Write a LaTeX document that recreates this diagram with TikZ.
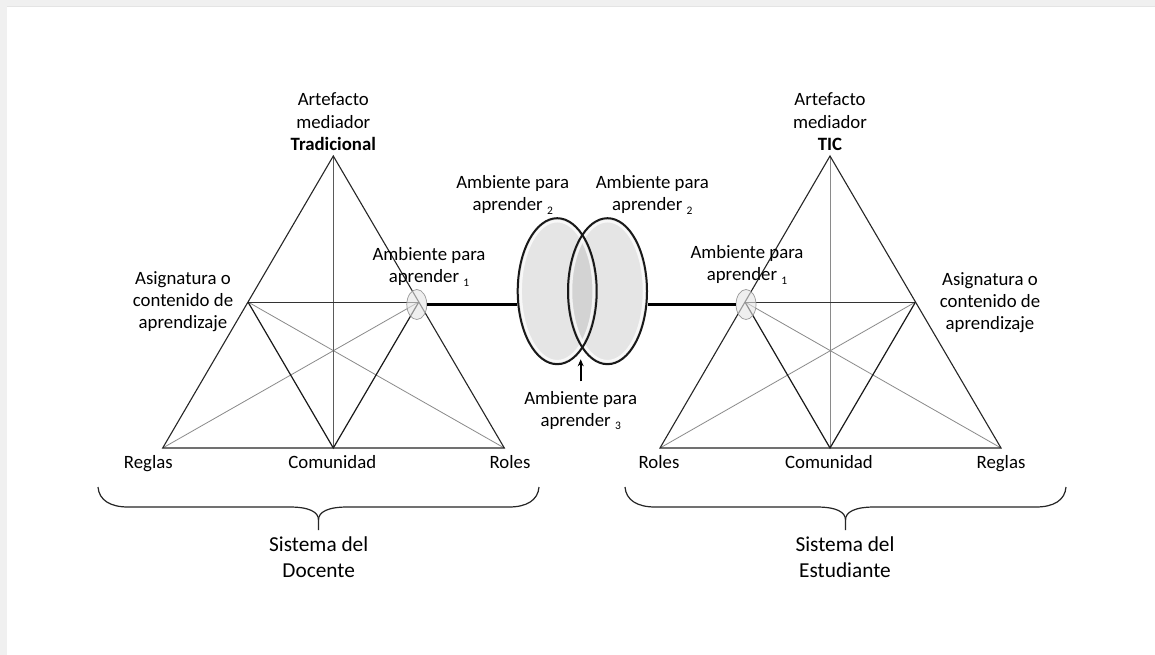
\documentclass[tikz,border=0pt]{standalone}
\usepackage{fontspec}
\setmainfont{Carlito}
\usetikzlibrary{shapes.geometric,arrows.meta}

\definecolor{framegray}{HTML}{F0F0F0}
\definecolor{frameedge}{HTML}{E4E4E4}
\definecolor{lensfill}{HTML}{E5E5E5}
\definecolor{lensdark}{HTML}{D3D3D3}
\definecolor{raygray}{HTML}{8A8A8A}
\definecolor{axisgray}{HTML}{5A5A5A}

% small lowered index after "aprender"
\newcommand{\lowidx}[1]{{\fontsize{11.5}{12}\selectfont\raisebox{-3.5pt}{#1}}}
% centred multi-line label whose base is the first line
\newcommand{\stack}[1]{\begin{tabular}[t]{@{}c@{}}#1\end{tabular}}

\tikzset{
  edge/.style={draw=black!85,line width=1.1pt},
  medial/.style={draw=black!90,line width=1.2pt},
  midline/.style={draw=black!80,line width=0.9pt},
  axisline/.style={draw=axisgray,line width=0.9pt},
  ray/.style={draw=raygray,line width=0.8pt},
  link/.style={draw=black,line width=2.6pt},
  lbl/.style={inner sep=0pt,anchor=base,font=\fontsize{18.8}{22.3}\selectfont},
  biglbl/.style={inner sep=0pt,anchor=base,font=\fontsize{21.3}{25.7}\selectfont},
  envspot/.style={ellipse,draw=black!40,fill=lensfill,fill opacity=0.6,
    line width=0.7pt,minimum width=20pt,minimum height=30pt,inner sep=0pt},
  lens/.style={ellipse,draw=black!90,line width=2pt,
    minimum width=79pt,minimum height=146pt,inner sep=0pt},
  pics/sysbrace/.style={code={
    \draw[black!85,line width=1.2pt]
      (-220.5,487) .. controls (-219.5,500) and (-208.5,507) .. (-190.5,507)
      -- (-29,507) .. controls (-9,507) and (0,512) .. (0,520) -- (0,530);
    \draw[black!85,line width=1.2pt]
      (220.5,487) .. controls (219.5,500) and (208.5,507) .. (190.5,507)
      -- (29,507) .. controls (9,507) and (0,512) .. (0,520);
  }}
}

\begin{document}
\begin{tikzpicture}[x=1pt,y=-1pt]
\path[use as bounding box] (0,0) rectangle (1155,655);
% page frame
\fill[framegray] (0,0) rectangle (1155,655);
\fill[white] (7,7) rectangle (1155,655);
\draw[frameedge,line width=1pt] (7,6.5) -- (1155,6.5);

% ---------- left activity triangle ----------
\coordinate (LA) at (333.3,156);
\coordinate (LR) at (162.7,448);
\coordinate (LO) at (504.3,448);
\coordinate (LC) at (333.3,448);
\coordinate (LM1) at (248,302);
\coordinate (LM2) at (418.8,302);

\draw[ray] (LM1) -- (LO);
\draw[ray] (LM2) -- (LR);
\draw[axisline] (LA) -- (LC);
\draw[midline] (LM1) -- (LM2);
\draw[medial] (LM1) -- (LC) -- (LM2);
\draw[edge] (LA) -- (LR) -- (LO) -- cycle;

% ---------- right activity triangle ----------
\coordinate (RA) at (830,156);
\coordinate (RL) at (660,448);
\coordinate (RG) at (1001,448);
\coordinate (RC) at (830,448);
\coordinate (RM1) at (745,302);
\coordinate (RM2) at (915.5,302);

\draw[ray] (RM1) -- (RG);
\draw[ray] (RM2) -- (RL);
\draw[axisline,draw=raygray] (RA) -- (RC);
\draw[midline] (RM1) -- (RM2);
\draw[medial] (RM1) -- (RC) -- (RM2);
\draw[edge] (RA) -- (RL) -- (RG) -- cycle;

% ---------- overlapping learning environments ----------
\fill[lensfill] (557.2,291.2) ellipse [x radius=39.5, y radius=73];
\fill[lensfill] (607.5,291.2) ellipse [x radius=39.5, y radius=73];
\begin{scope}
  \clip (557.2,291.2) ellipse [x radius=39.5, y radius=73];
  \fill[lensdark] (607.5,291.2) ellipse [x radius=39.5, y radius=73];
\end{scope}
\draw[white,opacity=0.75,line width=2.5pt] (557.2,291.2) ellipse [x radius=36.5, y radius=70];
\draw[white,opacity=0.75,line width=2.5pt] (607.5,291.2) ellipse [x radius=36.5, y radius=70];
\node[lens] (lensL) at (557.2,291.2) {};
\node[lens] (lensR) at (607.5,291.2) {};

% small environment spots on the triangles
\node[envspot] (envL) at (416.8,304.5) {};
\node[envspot] (envR) at (746,304.5) {};

\draw[link] (envL.east) -- (envL.east -| lensL.west);
\draw[link] (envR.west -| lensR.east) -- (envR.west);

% ---------- labels ----------
\node[lbl] (topL) at (333.3,106) {\stack{Artefacto\\mediador\\\textbf{Tradicional}}};
\node[lbl] (asigL) at (183,284) {\stack{Asignatura o\\contenido de\\aprendizaje}};
\node[lbl] (amb1L) at (429,260.5) {\stack{Ambiente para\\aprender \lowidx{1}}};
\node[lbl] (reglasL) at (148.3,468) {Reglas};
\node[lbl] (comL) at (332.3,468) {Comunidad};
\node[lbl] (rolesL) at (510,468) {Roles};

\node[lbl] (amb2L) at (512.7,188.3) {\stack{Ambiente para\\aprender \lowidx{2}}};
\node[lbl] (amb2R) at (652.3,188.3) {\stack{Ambiente para\\aprender \lowidx{2}}};
\node[lbl] (amb3) at (580.7,404) {\stack{Ambiente para\\aprender \lowidx{3}}};
\coordinate (meet) at (580.7,359.3);
\draw[black,line width=1.6pt,-{Stealth[length=7pt,width=6pt]}]
  ([yshift=6.7pt]amb3.north) -- (meet);

\node[lbl] (topR) at (830,106) {\stack{Artefacto\\mediador\\\textbf{TIC}}};
\node[lbl] (amb1R) at (747,258.3) {\stack{Ambiente para\\aprender \lowidx{1}}};
\node[lbl] (asigR) at (990,285) {\stack{Asignatura o\\contenido de\\aprendizaje}};
\node[lbl] (rolesR) at (659,468) {Roles};
\node[lbl] (comR) at (829,468) {Comunidad};
\node[lbl] (reglasR) at (1001,468) {Reglas};

% ---------- system braces ----------
\pic at (318.5,0) {sysbrace};
\pic at (845.5,0) {sysbrace};
\node[biglbl] (sysL) at (318.7,551.7) {\stack{Sistema del\\Docente}};
\node[biglbl] (sysR) at (845,551.7) {\stack{Sistema del\\Estudiante}};
\end{tikzpicture}
\end{document}
